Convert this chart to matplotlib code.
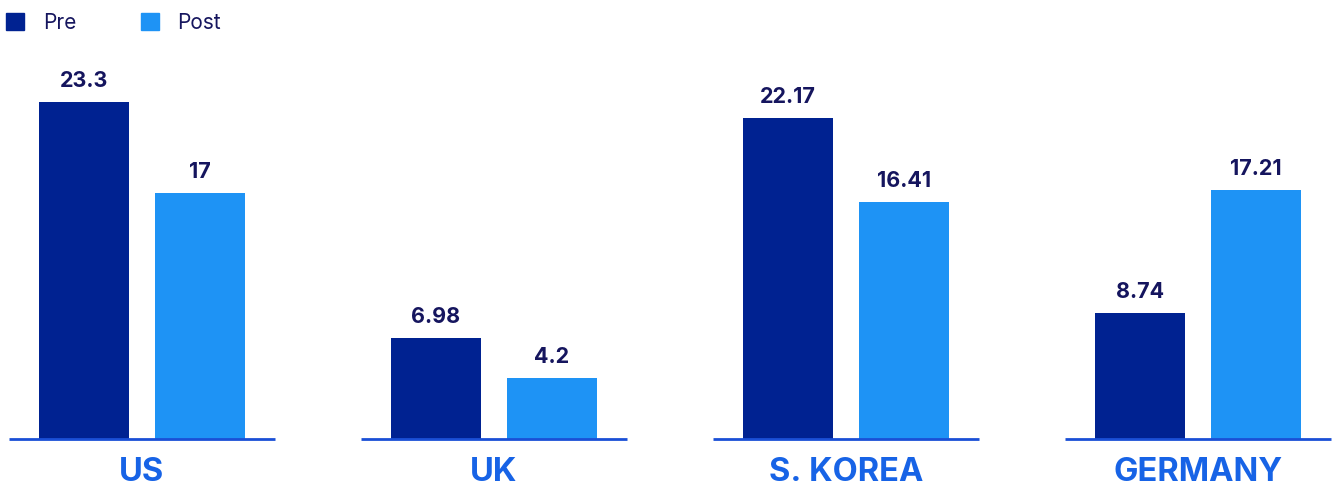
import numpy as np
import matplotlib.pyplot as plt
from matplotlib.patches import Patch

countries = ["US", "UK", "S. KOREA", "GERMANY"]
pre = [23.3, 6.98, 22.17, 8.74]
post = [17, 4.2, 16.41, 17.21]
pre_labels = ["23.3", "6.98", "22.17", "8.74"]
post_labels = ["17", "4.2", "16.41", "17.21"]

PRE_COLOR = "#002291"
POST_COLOR = "#1e93f5"
VALUE_COLOR = "#15155e"
CAT_COLOR = "#1763e6"
LINE_COLOR = "#1a4fd6"

plt.rcParams['font.family'] = ['Inter', 'DejaVu Sans']

fig = plt.figure(figsize=(13.32, 4.86), dpi=100)
ax = fig.add_axes([0, 0, 1, 1])

x = np.arange(len(countries))
w = 0.256
off = 0.165

b1 = ax.bar(x - off, pre, w, color=PRE_COLOR)
b2 = ax.bar(x + off, post, w, color=POST_COLOR)
ax.bar_label(b1, labels=pre_labels, padding=8, fontsize=15.5,
             fontweight='bold', color=VALUE_COLOR)
ax.bar_label(b2, labels=post_labels, padding=8, fontsize=15.5,
             fontweight='bold', color=VALUE_COLOR)

# separate baseline under each group
for xi in x:
    ax.plot([xi - 0.378, xi + 0.378], [0, 0], color=LINE_COLOR, lw=2,
            solid_capstyle='butt')
    ax.text(xi, -2.35, countries[xi], ha='center', va='center',
            fontsize=23.5, fontweight='bold', color=CAT_COLOR)

ax.set_xlim(-0.403, 3.381)
ax.set_ylim(-3.25, 30.36)
ax.axis('off')

handles = [Patch(color=PRE_COLOR, label="Pre"), Patch(color=POST_COLOR, label="Post")]
leg = fig.legend(handles=handles, loc='upper left', bbox_to_anchor=(-0.003, 0.995),
                 ncol=2, frameon=False, fontsize=15, handlelength=0.85,
                 handleheight=0.85, handletextpad=0.9, columnspacing=3.1,
                 borderaxespad=0.25, borderpad=0.25)
for t in leg.get_texts():
    t.set_color(VALUE_COLOR)

fig.savefig("out.png", dpi=100)
